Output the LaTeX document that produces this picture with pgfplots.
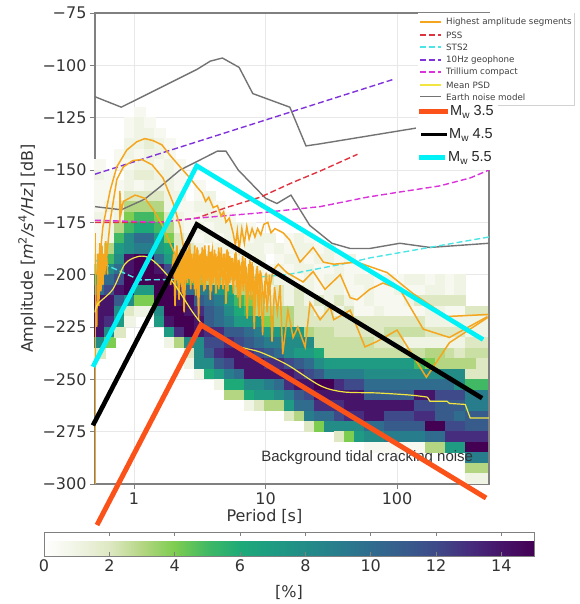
\documentclass[border=0pt]{standalone}
\usepackage{fontspec}
\setmainfont{DejaVu Sans}
\newfontfamily\arialf{Liberation Sans}
\usepackage{pgfplots}
\usepackage{pgfplotstable}
\pgfplotsset{compat=1.18}
\pgfdeclareplotmark{cell}{\pgfpathrectangle{\pgfpoint{-5.6pt}{-5.4pt}}{\pgfpoint{11.2pt}{10.8pt}}\pgfusepathqfill}
\definecolor{oseg}{rgb}{0.96,0.65,0.12}
\definecolor{rpss}{rgb}{0.87,0.2,0.25}
\definecolor{csts}{rgb}{0.3,0.9,0.9}
\definecolor{pgeo}{rgb}{0.5,0.2,0.85}
\definecolor{mtri}{rgb}{0.85,0.2,0.85}
\definecolor{ypsd}{rgb}{0.95,0.9,0.25}
\definecolor{gnoise}{gray}{0.45}
\definecolor{mwo}{rgb}{0.98,0.32,0.1}
\definecolor{mwc}{rgb}{0,0.95,0.97}
\definecolor{frameg}{gray}{0.5}
\pgfplotstableread{
amp c0 c1 c2 c3 c4 c5 c6 c7 c8 c9 c10 c11 c12 c13 c14 c15 c16 c17 c18 c19 c20 c21 c22 c23 c24 c25 c26 c27 c28 c29 c30 c31 c32 c33 c34 c35 c36 c37 c38
-122.5 0 0 0 0 .5 0 0 0 0 0  0 0 0 0 0 0 0 0 0 0  0 0 0 0 0 0 0 0 0 0  0 0 0 0 0 0 0 0 0
-127.5 0 0 0 .5 1 .5 0 0 0 0  0 0 0 0 0 0 0 0 0 0  0 0 0 0 0 0 0 0 0 0  0 0 0 0 0 0 0 0 0
-132.5 0 0 0 .5 1 1 .5 0 0 0  0 0 0 0 0 0 0 0 0 0  0 0 0 0 0 0 0 0 0 0  0 0 0 0 0 0 0 0 0
-137.5 0 0 0 1 1 1.5 1 .5 0 0  0 0 0 0 0 0 0 0 0 0  0 0 0 0 0 0 0 0 0 0  0 0 0 0 0 0 0 0 0
-142.5 0 0 .5 1 .5 1 1 .5 0 0  0 0 0 0 0 0 0 0 0 0  0 0 0 0 0 0 0 0 0 0  0 0 0 0 0 0 0 0 0
-147.5 .5 0 .5 .5 1 1 .5 1 .5 0  0 0 0 0 0 0 0 0 0 0  0 0 0 0 0 0 0 0 0 0  0 0 0 0 0 0 0 0 0
-152.5 1 .5 0 1 1.5 1.5 1 1 .5 0  0 0 0 0 0 0 0 0 0 0  0 0 0 0 0 0 0 0 0 0  0 0 0 0 0 0 0 0 0
-157.5 .5 .5 .5 1 .5 1 1 1 .5 0  .5 0 0 0 0 0 0 0 0 0  0 0 0 0 0 0 0 0 0 0  0 0 0 0 0 0 0 0 0
-162.5 .5 .5 .5 2 2 2 2 1 1 0  .5 1 0 0 0 0 0 0 0 0  0 0 0 0 0 0 0 0 0 0  0 0 0 0 0 0 0 0 0
-167.5 .5 1 1 3 3 3 3 1 .5 .5  1 1 .5 0 0 0 0 0 0 0  0 0 0 0 0 0 0 0 0 0  0 0 0 0 0 0 0 0 0
-172.5 1 .5 1 4 5 5 4 2 1 .5  .5 1 1 .5 0 0 0 0 0 0  0 0 0 0 0 0 0 0 0 0  0 0 0 0 0 0 0 0 0
-177.5 .5 1 3 5 6 6 5 3 1 .5  1 .5 1 1 1 .5 0 0 0 0  0 0 0 0 0 0 0 0 0 0  0 0 0 0 0 0 0 0 0
-182.5 .5 1 5 8 10 10 7 4 2 1  .5 1 .5 1 1 .5 1 1 0 .5  1 .5 0 0 0 0 0 0 0 0  0 0 0 0 0 0 0 0 0
-187.5 1 3 7 8 9 9 7 6 2 2  1 .5 1 1 .5 1 1 .5 1 .5  1 1 .5 1 0 0 0 0 0 0  0 0 0 0 0 0 0 0 0
-192.5 2 5 8 14 15 15 10 7 3 2  1 2 1 .5 1 .5 1 0 .5 1  1 .5 1 1 .5 1 0 0 0 0  0 0 0 0 0 0 0 0 0
-197.5 3 8 10 14 15 15 14 12 5 3  2 1 2 1 1 .5 1 .5 1 .5  1 1 .5 .5 1 .5 .5 0 0 0  0 0 0 0 0 0 0 0 0
-202.5 7 10 12 15 15 15 15 14 9 6  4 3 3 2 1 2 1 2 1 1  .5 1 .5 1 1 .5 1 1 .5 1  .5 1 1 .5 1 .5 1 0 0
-207.5 10 12 14 15 7 7 15 15 13 10  9 9 7 6 3 3 2 1 2 1  2 1 .5 1 1 .5 .5 1 .5 .5  1 .5 .5 1 1 .5 1 0 0
-212.5 14 14 11 8 4 4 15 15 14 14  11 10 9 7 5 4 3 2 2 1  2 1 2 1 2 1 .5 1 .5 .5  .5 1 2 2 2 2 2 0 0
-217.5 14 14 8 2 1 1 8 15 15 14  13 11 10 8 6 5 3 3 3 3  2 2 1 2 1 2 .5 .5 1 .5  .5 .5 .5 1 1 .5 .5 2 2
-222.5 14 13 7 1 0 0 7 14 15 15  14 11 10 9 7 7 7 4 3 3  2 2 2 2 2 2 2 2 2 2  2 2 2 1 1 1 1 1 1
-227.5 14 8 2 0 0 0 0 7 13 15  14 13 13 11 11 10 9 7 7 7  7 3 2.5 2.5 2 2 2 2 2 2.5  2.5 2.5 2.5 2 2 2 2 1 1
-232.5 8 4 0 0 0 0 0 1 3 8  8 12 12 13 12 11 10 9 9 8  8 8 2.5 2.5 2.5 2.5 2.5 2.5 2 2  2 1 1 1 1 1 1 2 2
-237.5 2 0 0 0 0 0 0 0 0 2  8 11 13 14 14 13 12 11 10 8  7 7 6 2.5 2.5 2.5 2.5 2.5 2.5 2.5  2.5 2.5 2.5 3 3 2.5 2 2.5 2.5
-242.5 0 0 0 0 0 0 0 0 0 1  8 8 11 12 14 14 14 13 13 12  11 10 8 7 7 7 7 7 7 7  7 7 5 4 3 3 3 3 2
-247.5 0 0 0 0 0 0 0 0 0 0  1 6 7 9 10 14 14 14 14 14  13 12 11 9 9 9 9 8 8 8  8 8 8 8 8 8 8 2 2
-252.5 0 0 0 0 0 0 0 0 0 0  0 0 1 6 6 8 8 9 10 13  14 14 15 15 13 12 12 10 10 10  10 10 10 10 10 10 8 5 5
-257.5 0 0 0 0 0 0 0 0 0 0  0 0 0 3 3 6 7 7 8 9  11 12 14 14 14 14 14 11 11 11  11 11 14 14 12 12 12 9 9
-262.5 0 0 0 0 0 0 0 0 0 0  0 0 0 0 0 1 2 3 3 7  10 10 13 13 13 14 14 14 14 14  14 14 12 12 11 11 11 9 9
-267.5 0 0 0 0 0 0 0 0 0 0  0 0 0 0 0 0 0 0 0 2  3 9 10 10 12 13 13 14 14 12  12 12 13 13 11 11 10 11 11
-272.5 0 0 0 0 0 0 0 0 0 0  0 0 0 0 0 0 0 0 0 0  0 2 4 8 8 8 8 10 10 11  11 11 11 15 15 12 12 11 11
-277.5 0 0 0 0 0 0 0 0 0 0  0 0 0 0 0 0 0 0 0 0  0 0 0 0 2 4 7 8 8 9  9 9 9 10 10 13 13 13 13
-282.5 0 0 0 0 0 0 0 0 0 0  0 0 0 0 0 0 0 0 0 0  0 0 0 0 0 0 0 .5 .5 .5  .5 .5 .5 3 3 7 7 15 15
-287.5 0 0 0 0 0 0 0 0 0 0  0 0 0 0 0 0 0 0 0 0  0 0 0 0 0 0 0 0 0 0  0 0 0 0 0 0 0 9 9
-292.5 0 0 0 0 0 0 0 0 0 0  0 0 0 0 0 0 0 0 0 0  0 0 0 0 0 0 0 0 0 0  0 0 0 0 0 0 0 3 3
-297.5 0 0 0 0 0 0 0 0 0 0  0 0 0 0 0 0 0 0 0 0  0 0 0 0 0 0 0 0 0 0  0 0 0 0 0 0 0 1 1
}\heatdata
\begin{document}
\begin{tikzpicture}[x=1pt,y=1pt]
\useasboundingbox (0,0) rectangle (579,604);
\begin{axis}[
  at={(95pt,120pt)},anchor=south west,
  scale only axis,width=394pt,height=471pt,
  xmode=log,log basis x=10,
  xmin=0.505,xmax=500,ymin=-300,ymax=-75,
  clip=false,clip mode=individual,
  unbounded coords=discard,
  axis line style={frameg,line width=1.1pt},
  tick style={frameg,line width=0.7pt},
  major tick length=5pt,minor tick length=2.5pt,
  tick align=outside,xtick pos=bottom,ytick pos=left,
  xtick={1,10,100},xticklabels={1,10,100},
  ytick={-300,-275,-250,-225,-200,-175,-150,-125,-100,-75},
  yticklabels={−300,−275,−250,−225,−200,−175,−150,−125,−100,−75},
  grid=both,
  major grid style={gray!18,line width=0.5pt},
  minor grid style={gray!14,line width=0.5pt},
  ticklabel style={font=\fontsize{16}{18}\selectfont,text=black!80},
  xlabel={Period [s]},ylabel={Amplitude [\textit{m}\textsuperscript{2}\textit{/s}\textsuperscript{4}\textit{/Hz}] [dB]},
  every axis x label/.style={at={(axis description cs:0.43,-0.068)},anchor=center,font=\fontsize{16}{18}\selectfont,text=black!80},
  every axis y label/.style={at={(axis description cs:-0.172,0.5)},rotate=90,anchor=center,font=\fontsize{16}{18}\selectfont,text=black!80},
  colormap={pct}{rgb255=(255,255,255) rgb255=(240,244,228) rgb255=(222,232,195) rgb255=(180,214,130) rgb255=(125,205,80) rgb255=(65,185,100) rgb255=(30,170,120) rgb255=(30,155,130) rgb255=(35,140,135) rgb255=(40,125,140) rgb255=(48,108,142) rgb255=(55,92,140) rgb255=(62,74,137) rgb255=(70,45,125) rgb255=(70,20,105) rgb255=(68,1,84)},
  point meta min=0,point meta max=15,
  colorbar horizontal,
  colorbar style={
    at={(-0.1294,-0.102)},anchor=north west,
    width=490pt,height=24pt,
    xtick={0,2,4,6,8,10,12,14},
    xlabel={[\%]},
    every axis x label/.style={at={(axis description cs:0.5,-1.5)},anchor=center,font=\fontsize{16}{18}\selectfont,text=black!80},
    /pgf/number format/assume math mode=true,
    xticklabel style={font=\fontsize{16}{18}\selectfont,text=black!80},
    axis line style={frameg,line width=0.8pt},
    major tick length=4pt,
  },
]
\foreach \k/\P in {0/0.551,1/0.657,2/0.783,3/0.932,4/1.111,5/1.323,6/1.577,7/1.879,8/2.238,9/2.666,10/3.176,11/3.784,12/4.508,13/5.372,14/6.40,15/7.62,16/9.08,17/10.82,18/12.89,19/15.36,20/18.30,21/21.80,22/25.97,23/30.94,24/36.87,25/43.92,26/52.33,27/62.33,28/74.26,29/88.5,30/105.4,31/125.6,32/149.6,33/178.3,34/212.4,35/253.1,36/301,37/365,38/443}{
  \edef\tmp{\noexpand\addplot[forget plot,scatter,only marks,mark=cell,scatter src=explicit]
    table[x expr=\P,y expr={\noexpand\thisrow{c\k}>0 ? \noexpand\thisrow{amp} : nan},meta=c\k] {\noexpand\heatdata};}
  \tmp
}
% Earth noise model
\addplot[gnoise,line width=1.4pt] coordinates {(0.505,-115)(0.8,-120)(3,-102)(3.8,-98)(4.7,-96.5)(6.3,-101)(8,-113.5)(15.3,-120)(20.3,-138.5)(26,-137.5)(139,-130)};
\addplot[gnoise,line width=1.4pt] coordinates {(0.505,-167.5)(0.8,-169)(1.2,-164)(1.58,-158)(2.24,-150)(3,-146)(4.3,-141)(5,-141)(6.2,-150)(10,-163.5)(12.2,-166)(15.6,-162)(21.7,-176.5)(32,-185)(44,-187.5)(62,-187.5)(105,-185)(178,-187)(500,-185)};
% instruments
\addplot[pgeo,line width=1.4pt,dash pattern=on 6pt off 3pt] coordinates {(0.505,-152)(96,-106.5)};
\addplot[rpss,line width=1.4pt,dash pattern=on 6pt off 3pt] coordinates {(0.505,-175)(1.58,-175)(3,-173)(5,-168)(9.1,-163)(16,-156)(26,-150.5)(50,-142.5)};
\addplot[mtri,line width=1.4pt,dash pattern=on 6pt off 3pt] coordinates {(0.505,-174)(1.58,-175)(3,-173)(9,-170.5)(26,-167.5)(59,-163)(105,-160.5)(211,-157.6)(360,-153.8)(500,-150)};
\addplot[csts,line width=1.4pt,dash pattern=on 6pt off 3pt] coordinates {(0.505,-193)(1.1,-202.5)(6,-202)(14.6,-200)(41.6,-194.5)(62,-192)(500,-182)};
% highest amplitude segments
\addplot[oseg,line width=0.8pt] coordinates {(0.51,-300)(0.51,-180)};
\addplot[oseg,line width=1.6pt] coordinates {(0.52,-225)(0.53,-190)(0.54,-215)(0.55,-185)(0.56,-208)(0.57,-186)(0.58,-205)(0.59,-190)(0.6,-200)(0.61,-184)(0.63,-200)};
\addplot[oseg,line width=1.5pt] coordinates {(0.52,-200)(0.55,-192)(0.58,-177)(0.66,-159.5)(0.74,-148.5)(0.88,-140.5)(1.05,-136.5)(1.21,-135)(1.4,-136)(1.63,-138)(1.88,-143)(2.24,-148.5)(2.66,-153.8)(3,-158)(3.3,-161)(3.5,-165)(3.7,-163)(4,-168)(4.3,-167)(4.6,-172)(4.8,-170)(5,-175)(5.3,-173)(5.66,-180)(5.9,-186)(6.1,-179)(6.3,-188)(6.6,-178)(6.9,-185)(7.2,-177)(7.5,-183)(7.9,-178)(8.3,-182)(8.7,-178)(9.2,-181)(9.7,-176)(10.4,-175)(11,-180)(11.8,-178)(13.6,-180)(15.3,-183.5)(18.3,-194)(23,-187)(27.5,-194)(33,-195)(49.6,-194)(84,-199)(132,-209)(240,-220)(495,-219)};
\addplot[oseg,line width=1.5pt] coordinates {(0.62,-191)(0.66,-174)(0.74,-154.5)(0.83,-148.5)(0.98,-145.5)(1.15,-145)(1.37,-147.5)(1.66,-153.8)(1.98,-165.7)(2.24,-177)(2.44,-191.5)};
\addplot[oseg,line width=1.5pt] coordinates {(0.78,-175)(0.78,-160)(0.8,-170)(0.83,-165)(1.02,-162)(1.21,-163.5)(1.4,-169)(1.63,-176)(1.88,-185)(2.15,-193)(2.3,-200)};
\addplot[oseg,line width=1.5pt] coordinates {(1.9,-205)(2,-190)(2.05,-215)(2.1,-192)(2.2,-212)(2.25,-188)(2.3,-206)(2.35,-190)(2.4,-218)(2.5,-192)(2.55,-204)(2.6,-187)(2.7,-207)(2.75,-190)(2.8,-203)(2.9,-186)(2.95,-210)(3,-190)(3.1,-222)(3.15,-193)(3.2,-205)(3.3,-187)(3.4,-208)(3.5,-191)(3.6,-203)(3.7,-186)(3.8,-212)(3.9,-189)(4,-204)(4.1,-188)(4.2,-209)(4.35,-191)(4.5,-205)(4.6,-187)(4.75,-207)(4.9,-190)(5,-214)(5.2,-189)(5.35,-204)(5.5,-192)(5.7,-209)(5.85,-190)(6,-206)(6.2,-193)(6.4,-216)(6.6,-194)(6.8,-208)(7,-192)(7.25,-221)(7.5,-197)(7.7,-212)(7.9,-194)(8.2,-226)(8.5,-200)(8.8,-215)(9.1,-198)(9.5,-229)(9.9,-203)(10.3,-218)(10.7,-200)(11.2,-232)(11.7,-206)(12.3,-218)(12.9,-205)(13.5,-238)(14.8,-217)(16.2,-230)(17.6,-225)(20,-234.5)(21.8,-213.5)(26,-221.5)(31,-215.5)(33,-221.5)(44,-217)(57,-234.5)(70,-232)(100,-226.5)(167,-249)(250,-232.5)(488,-220.5)};
\addplot[oseg,line width=1.5pt] coordinates {(2.02,-198)(2.12,-186)(2.18,-203)(2.28,-194)(2.33,-209)(2.43,-189)(2.48,-201)(2.58,-197)(2.65,-185)(2.72,-200)(2.82,-192)(2.88,-207)(2.98,-195)(3.05,-188)(3.12,-201)(3.25,-193)(3.35,-204)(3.45,-186)(3.55,-199)(3.65,-194)(3.75,-205)(3.85,-193)(3.95,-188)(4.05,-199)(4.15,-194)(4.3,-203)(4.4,-187)(4.55,-198)(4.7,-192)(4.8,-204)(4.95,-195)(5.1,-188)(5.25,-200)(5.4,-194)(5.6,-203)(5.75,-196)(5.95,-189)(6.1,-201)(6.3,-197)(6.5,-205)(6.7,-191)(6.9,-203)(7.15,-198)(7.4,-207)(7.6,-193)(7.8,-205)(8.05,-199)(8.35,-209)(8.65,-196)(8.95,-206)(9.3,-201)(9.7,-214)(10.1,-199)(10.5,-210)(11.4,-198)(12.5,-195)(14.5,-199)(19.3,-203.5)(23,-198.5)(28.3,-207)(37,-200)(44,-211)(49.6,-212)(62,-207)(78,-204)(105,-207)(158,-226)(250,-230)(488,-220)};
\addplot[oseg,line width=1.5pt] coordinates {(2.2,-192)(2.27,-200)(2.37,-190)(2.45,-204)(2.52,-188)(2.62,-202)(2.68,-192)(2.78,-204)(2.85,-190)(2.92,-200)(3.02,-187)(3.08,-205)(3.18,-190)(3.28,-200)(3.38,-188)(3.48,-207)(3.58,-191)(3.68,-199)(3.78,-189)(3.88,-208)(3.98,-191)(4.08,-201)(4.18,-190)(4.28,-198)(4.42,-207)(4.52,-190)(4.65,-201)(4.78,-190)(4.92,-200)(5.05,-192)(5.18,-208)(5.32,-191)(5.48,-200)(5.62,-192)(5.8,-203)(6,-192)(6.15,-211)(6.35,-195)(6.55,-199)(6.75,-205)(7,-196)(7.2,-212)(7.45,-195)(7.7,-203)(8,-196)(8.25,-213)(8.55,-197)(8.9,-220)(9.2,-201)};
% mean PSD
\addplot[ypsd,line width=1.2pt,smooth] coordinates {(0.505,-218)(0.53,-214)(0.69,-207)(0.85,-195)(1.05,-191.5)(1.25,-191.5)(1.5,-195)(2,-204)(2.8,-218)(3.35,-224)(4.5,-230)(6.4,-234.5)(9.1,-237)(14.6,-243)(26,-253)(39,-256)(70,-256.5)(125,-257.5)(170,-258.5)};
\addplot[ypsd,line width=1.2pt] coordinates {(170,-258.5)(178,-260.5)(240,-260.5)(250,-261.5)(330,-262)(360,-268.5)(500,-268.5)};
\addplot[draw=none,forget plot] coordinates {(59.3,-287.6)} node[text=black!80,font=\arialf\fontsize{15}{17}\selectfont] {Background tidal cracking noise};
% magnitude lines
\addplot[mwo,line width=5pt,line join=miter] coordinates {(0.523,-319.6)(3.23,-224)(475,-306.7)};
\addplot[black,line width=4.6pt,line join=miter] coordinates {(0.487,-272)(3,-176)(443,-259)};
\addplot[mwc,line width=4.6pt,line join=miter] coordinates {(0.487,-244)(3,-148)(451,-231)};
\end{axis}
% legends
\fill[white] (418,499) rectangle (574,591);
\draw[gray!35,line width=0.6pt] (418,499) -- (574,499) -- (574,591);
\fill[white] (418,434) rectangle (498,499);
\draw[oseg,line width=1.3pt] (420,582) -- (441,582);
\draw[ypsd,line width=1.3pt] (420,519) -- (441,519);
\draw[gnoise,line width=1pt] (420,507) -- (441,507);
\foreach \yy/\lab in {582/Highest amplitude segments,519/Mean PSD,507/Earth noise model}{
  \node[anchor=west,inner sep=0,text=black!75,font=\fontsize{8.7}{9}\selectfont] at (446,\yy) {\lab};
}
\foreach \yy/\cc/\lab in {569/rpss/PSS,557/csts/STS2,544/pgeo/10Hz  geophone,532/mtri/Trillium  compact}{
  \draw[\cc,line width=1.1pt,dash pattern=on 6pt off 3pt] (420,\yy) -- (441,\yy);
  \node[anchor=west,inner sep=0,text=black!75,font=\fontsize{8.7}{9}\selectfont] at (446,\yy) {\lab};
}
\draw[mwo,line width=5pt] (419,492) -- (448,492);
\draw[black,line width=3pt] (421,469) -- (447,469);
\draw[mwc,line width=5pt] (419,446) -- (445,446);
\foreach \yy/\xx/\lab in {492/450/3.5,469/449/4.5,446/448/5.5}{
  \node[anchor=west,inner sep=0,text=black!85,font=\arialf\fontsize{14.5}{16}\selectfont] at (\xx,\yy) {M\raisebox{-3pt}{\fontsize{10}{10}\selectfont w} \lab};
}
\end{tikzpicture}
\end{document}
